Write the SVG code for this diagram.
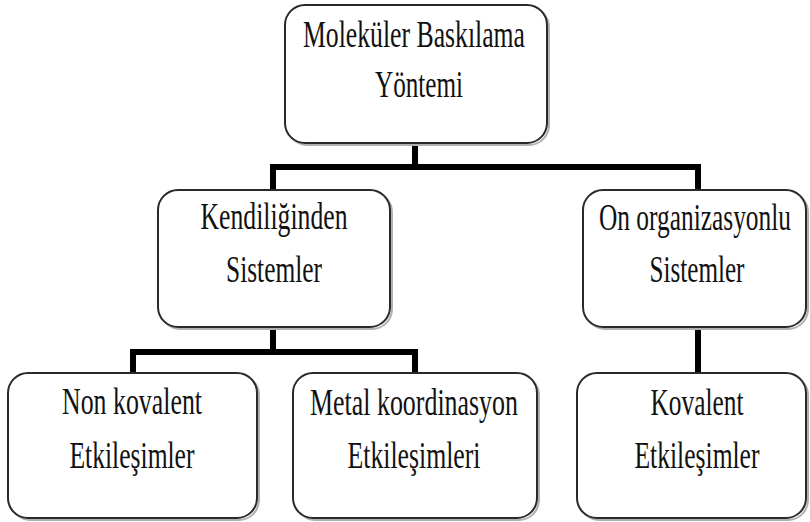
<svg xmlns="http://www.w3.org/2000/svg" width="810" height="522" viewBox="0 0 810 522">
<style>
.box{fill:#fff;stroke:#2a2a2a;stroke-width:2}
.sh{fill:none;stroke:#b0b0b0;stroke-width:2}
.t{font-family:"Liberation Serif","DejaVu Serif",serif;font-size:37px;fill:#111;text-anchor:middle}
.c{fill:none;stroke:#000;stroke-width:6;stroke-linejoin:miter;stroke-linecap:square}
</style>
<rect width="810" height="522" fill="#fff"/>
<g id="connectors">
<path class="c" d="M415,143 V167 M273,167 H698 M273,167 V190 M698,167 V190"/>
<path class="c" d="M273,327 V352 M133,352 H415 M133,352 V373 M415,352 V373"/>
<path class="c" d="M698,327 V373"/>
</g>
<g id="n-root">
<rect class="sh" x="287" y="7" width="262" height="138" rx="20"/>
<rect class="box" x="285" y="5" width="262" height="138" rx="20"/>
<text class="t" x="414" y="47" textLength="222" lengthAdjust="spacingAndGlyphs">Moleküler Baskılama</text>
<text class="t" x="419" y="97" textLength="88" lengthAdjust="spacingAndGlyphs">Yöntemi</text>
</g>
<g id="n-kendi">
<rect class="sh" x="160" y="192" width="232" height="137" rx="20"/>
<rect class="box" x="158" y="190" width="232" height="137" rx="20"/>
<text class="t" x="274" y="229" textLength="147" lengthAdjust="spacingAndGlyphs">Kendiliğinden</text>
<text class="t" x="274" y="282" textLength="96" lengthAdjust="spacingAndGlyphs">Sistemler</text>
</g>
<g id="n-onorg">
<rect class="sh" x="585" y="192" width="223" height="137" rx="20"/>
<rect class="box" x="583" y="190" width="223" height="137" rx="20"/>
<text class="t" x="695" y="230" textLength="192" lengthAdjust="spacingAndGlyphs">On organizasyonlu</text>
<text class="t" x="697" y="282" textLength="95" lengthAdjust="spacingAndGlyphs">Sistemler</text>
</g>
<g id="n-nonkov">
<rect class="sh" x="10" y="375" width="249" height="145" rx="20"/>
<rect class="box" x="8" y="373" width="249" height="145" rx="20"/>
<text class="t" x="132" y="414" textLength="140" lengthAdjust="spacingAndGlyphs">Non kovalent</text>
<text class="t" x="132" y="468" textLength="125" lengthAdjust="spacingAndGlyphs">Etkileşimler</text>
</g>
<g id="n-metal">
<rect class="sh" x="295" y="375" width="244" height="145" rx="20"/>
<rect class="box" x="293" y="373" width="244" height="145" rx="20"/>
<text class="t" x="414" y="415" textLength="208" lengthAdjust="spacingAndGlyphs">Metal koordinasyon</text>
<text class="t" x="414" y="468" textLength="133" lengthAdjust="spacingAndGlyphs">Etkileşimleri</text>
</g>
<g id="n-kov">
<rect class="sh" x="579" y="375" width="229" height="145" rx="20"/>
<rect class="box" x="577" y="373" width="229" height="145" rx="20"/>
<text class="t" x="697" y="415" textLength="93" lengthAdjust="spacingAndGlyphs">Kovalent</text>
<text class="t" x="697" y="468" textLength="125" lengthAdjust="spacingAndGlyphs">Etkileşimler</text>
</g>
</svg>
